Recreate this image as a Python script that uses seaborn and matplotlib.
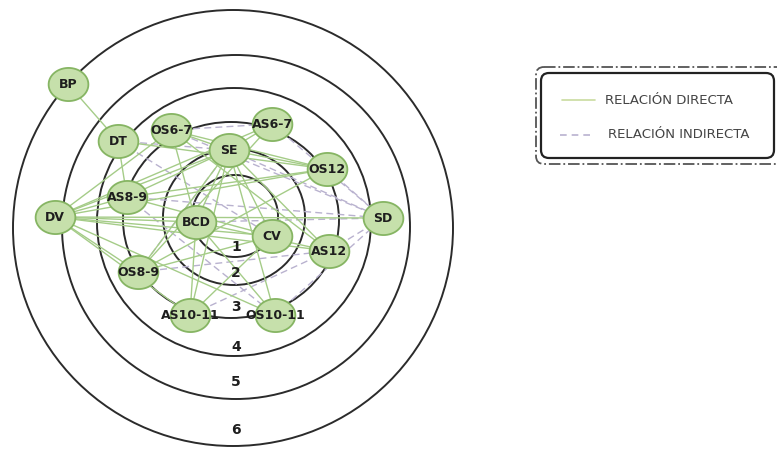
import numpy as np
import pandas as pd
import matplotlib
matplotlib.use("Agg")
import matplotlib.pyplot as plt
from matplotlib.patches import Ellipse, FancyBboxPatch
from matplotlib.path import Path
import seaborn as sns

sns.set_theme(style="white")
plt.rcParams['font.family'] = ['Liberation Sans Narrow', 'DejaVu Sans']

# ---- data ----
node_names = ["BP", "DT", "OS6-7", "SE", "AS6-7", "OS12", "SD", "AS12", "CV",
              "BCD", "AS8-9", "DV", "OS8-9", "AS10-11", "OS10-11"]
node_x = [68, 118, 171, 229, 272, 327, 383, 329, 272, 196, 127, 55, 138, 190, 275]
node_y = [84, 141, 130, 150, 124, 169, 218, 251, 236, 222, 197, 217, 272, 315, 315]

ring_labels = ["1", "2", "3", "4", "5", "6"]
ring_cx = [235, 234, 231, 234, 236, 233]
ring_cy = [216, 217, 220, 222, 227, 228]
ring_rx = [43, 71, 108, 137, 174, 220]
ring_ry = [41, 68, 98, 134, 172, 218]
ring_label_y = [247, 273, 307, 347, 382, 430]

direct_edges = [
    ("BP", "DT"),
    ("DV", "OS6-7"), ("DV", "SE"), ("DV", "AS6-7"), ("DV", "OS12"), ("DV", "AS8-9"),
    ("DV", "BCD"), ("DV", "SD"), ("DV", "AS12"), ("DV", "CV"), ("DV", "OS8-9"),
    ("DV", "AS10-11"), ("DV", "OS10-11"),
    ("SE", "BCD"), ("SE", "CV"), ("SE", "AS10-11"), ("SE", "OS10-11"), ("SE", "OS8-9"),
    ("SE", "AS8-9"), ("SE", "AS12"), ("SE", "OS12"),
    ("OS6-7", "BCD"), ("OS6-7", "OS12"), ("OS6-7", "SE"), ("OS6-7", "AS12"),
    ("AS6-7", "OS8-9"), ("AS6-7", "SE"),
    ("BCD", "AS10-11"), ("BCD", "OS10-11"), ("BCD", "AS12"),
    ("AS8-9", "OS12"), ("AS8-9", "CV"),
    ("OS8-9", "OS12"), ("OS8-9", "CV"),
    ("CV", "AS10-11"), ("DT", "OS12"), ("DT", "AS8-9"),
]
indirect_edges = [
    ("OS6-7", "AS6-7"), ("AS6-7", "SD"), ("OS12", "SD"), ("AS12", "SD"),
    ("OS10-11", "SD"), ("SE", "SD"), ("BCD", "SD"), ("AS8-9", "SD"),
    ("OS6-7", "SD"), ("DT", "CV"), ("OS8-9", "AS12"), ("AS10-11", "AS12"),
    ("OS8-9", "SE"), ("DT", "SE"), ("AS8-9", "OS10-11"),
]

legend_labels = ["RELACIÓN DIRECTA", "RELACIÓN INDIRECTA"]

# ---- build tables ----
nodes = pd.DataFrame({"name": node_names, "x": node_x, "y": node_y})
pos = {n: (x, y) for n, x, y in zip(node_names, node_x, node_y)}


def edge_table(edges):
    rows = []
    for i, (a, b) in enumerate(edges):
        rows.append({"edge": i, "x": pos[a][0], "y": pos[a][1]})
        rows.append({"edge": i, "x": pos[b][0], "y": pos[b][1]})
    return pd.DataFrame(rows)


direct_df = edge_table(direct_edges)
indirect_df = edge_table(indirect_edges)

# ---- figure ----
fig = plt.figure(figsize=(7.77, 4.49), dpi=100)
ax = fig.add_axes([0, 0, 1, 1])
ax.set_xlim(0, 777)
ax.set_ylim(449, 0)
ax.axis("off")

# rings
for cx, cy, rx, ry in zip(ring_cx, ring_cy, ring_rx, ring_ry):
    ax.add_patch(Ellipse((cx, cy), 2 * rx, 2 * ry, fill=False,
                         ec="#2b2b2b", lw=1.4, zorder=1))

# edges
sns.lineplot(data=indirect_df, x="x", y="y", units="edge", estimator=None,
             sort=False, color="#b9b2cf", lw=1.0, linestyle=(0, (5, 3)),
             ax=ax, zorder=2, legend=False)
sns.lineplot(data=direct_df, x="x", y="y", units="edge", estimator=None,
             sort=False, color="#a5cc88", lw=1.0, ax=ax, zorder=3, legend=False)

# nodes (ellipse marker)
t = np.linspace(0, 2 * np.pi, 60)
verts = np.column_stack([np.cos(t), np.sin(t) / 1.2])
ell = Path(verts, closed=True)
sns.scatterplot(data=nodes, x="x", y="y", marker=ell, s=820,
                color="#c6e0ab", edgecolor="#86b563", linewidth=1.3,
                ax=ax, zorder=4, legend=False)
for n, x, y in zip(node_names, node_x, node_y):
    ax.text(x, y + 0.5, n, ha="center", va="center", fontsize=9,
            fontweight="bold", color="#1e1e1e", zorder=5)

# ring numbers
for lab, ly in zip(ring_labels, ring_label_y):
    ax.text(236, ly, lab, ha="center", va="center", fontsize=10,
            fontweight="bold", color="#1e1e1e", zorder=5)

# legend box
ax.add_patch(FancyBboxPatch((536, 67), 250, 97,
                            boxstyle="round,pad=0,rounding_size=8",
                            fill=False, ec="#555555", lw=1.3,
                            linestyle="-.", zorder=6))
ax.add_patch(FancyBboxPatch((541, 73), 233, 85,
                            boxstyle="round,pad=0,rounding_size=8",
                            fill=False, ec="#222222", lw=1.6, zorder=6))
ax.plot([562, 595], [100, 100], color="#c9dba0", lw=1.2, zorder=6)
ax.plot([560, 594], [135, 135], color="#b9b2cf", lw=1.2,
        linestyle=(0, (4, 3)), zorder=6)
ax.text(605, 100, legend_labels[0], ha="left", va="center", fontsize=9.5,
        color="#444444", zorder=6)
ax.text(608, 135, legend_labels[1], ha="left", va="center", fontsize=9.5,
        color="#444444", zorder=6)

fig.savefig("out.png", dpi=100)
